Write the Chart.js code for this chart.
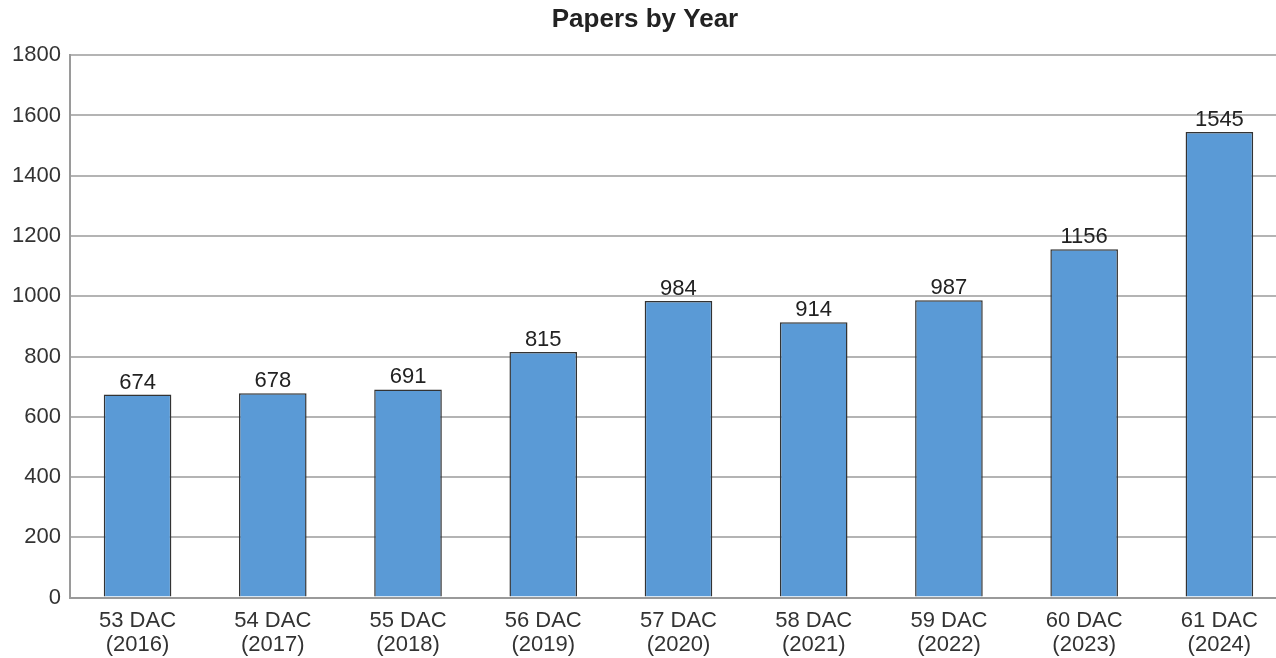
<!DOCTYPE html>
<html>
<head>
<meta charset="utf-8">
<script src="https://cdn.jsdelivr.net/npm/chart.js@4.4.1/dist/chart.umd.min.js"></script>
<style>
    html, body { margin: 0; padding: 0; background: #fff; overflow: hidden; }
    #wrap { width: 1288px; height: 658px; }
</style>
</head>
<body>
<div id="wrap"><canvas id="papersChart"></canvas></div>
<script>
const categories = [
    ['53 DAC', '(2016)'], ['54 DAC', '(2017)'], ['55 DAC', '(2018)'],
    ['56 DAC', '(2019)'], ['57 DAC', '(2020)'], ['58 DAC', '(2021)'],
    ['59 DAC', '(2022)'], ['60 DAC', '(2023)'], ['61 DAC', '(2024)']
];
const papers = [674, 678, 691, 815, 984, 914, 987, 1156, 1545];
const yMax = 1800;
const yStep = 200;

// draws the value above each bar
const valueLabels = {
    id: 'valueLabels',
    afterDatasetsDraw(chart) {
        const ctx = chart.ctx;
        const meta = chart.getDatasetMeta(0);
        ctx.save();
        ctx.font = '22px "Liberation Sans", Arial, sans-serif';
        ctx.fillStyle = '#222';
        ctx.textAlign = 'center';
        ctx.textBaseline = 'bottom';
        meta.data.forEach((bar, i) => {
            ctx.fillText(papers[i], bar.x, bar.y - 1);
        });
        ctx.restore();
    }
};

Chart.defaults.font.family = '"Liberation Sans", Arial, sans-serif';

const ctx = document.getElementById('papersChart').getContext('2d');
const papersChart = new Chart(ctx, {
    type: 'bar',
    data: {
        labels: categories,
        datasets: [{
            label: 'Papers',
            data: papers,
            backgroundColor: '#5a9ad6',
            borderColor: '#333',
            borderWidth: 1.5,
            barPercentage: 0.5,
            categoryPercentage: 1
        }]
    },
    plugins: [valueLabels],
    options: {
        responsive: true,
        maintainAspectRatio: false,
        animation: false,
        layout: {
            padding: { left: 3, right: 1, top: 0, bottom: -10 }
        },
        plugins: {
            legend: { display: false },
            tooltip: { enabled: false },
            title: {
                display: true,
                text: 'Papers by Year',
                color: '#222',
                font: { size: 26, weight: 'bold' },
                padding: { top: 4, bottom: 20 }
            }
        },
        scales: {
            x: {
                grid: { display: false, drawTicks: false },
                border: { display: true, color: '#9a9a9a', width: 2 },
                ticks: {
                    color: '#333',
                    font: { size: 22, lineHeight: 1.1 },
                    padding: 11,
                    maxRotation: 0,
                    autoSkip: false
                }
            },
            y: {
                min: 0,
                max: yMax,
                grid: { color: '#b4b4b4', lineWidth: 2, drawTicks: false },
                border: { display: true, color: '#9a9a9a', width: 2 },
                ticks: {
                    stepSize: yStep,
                    color: '#333',
                    font: { size: 22 },
                    padding: 9,
                    callback: value => String(value)
                }
            }
        }
    }
});
</script>
</body>
</html>
